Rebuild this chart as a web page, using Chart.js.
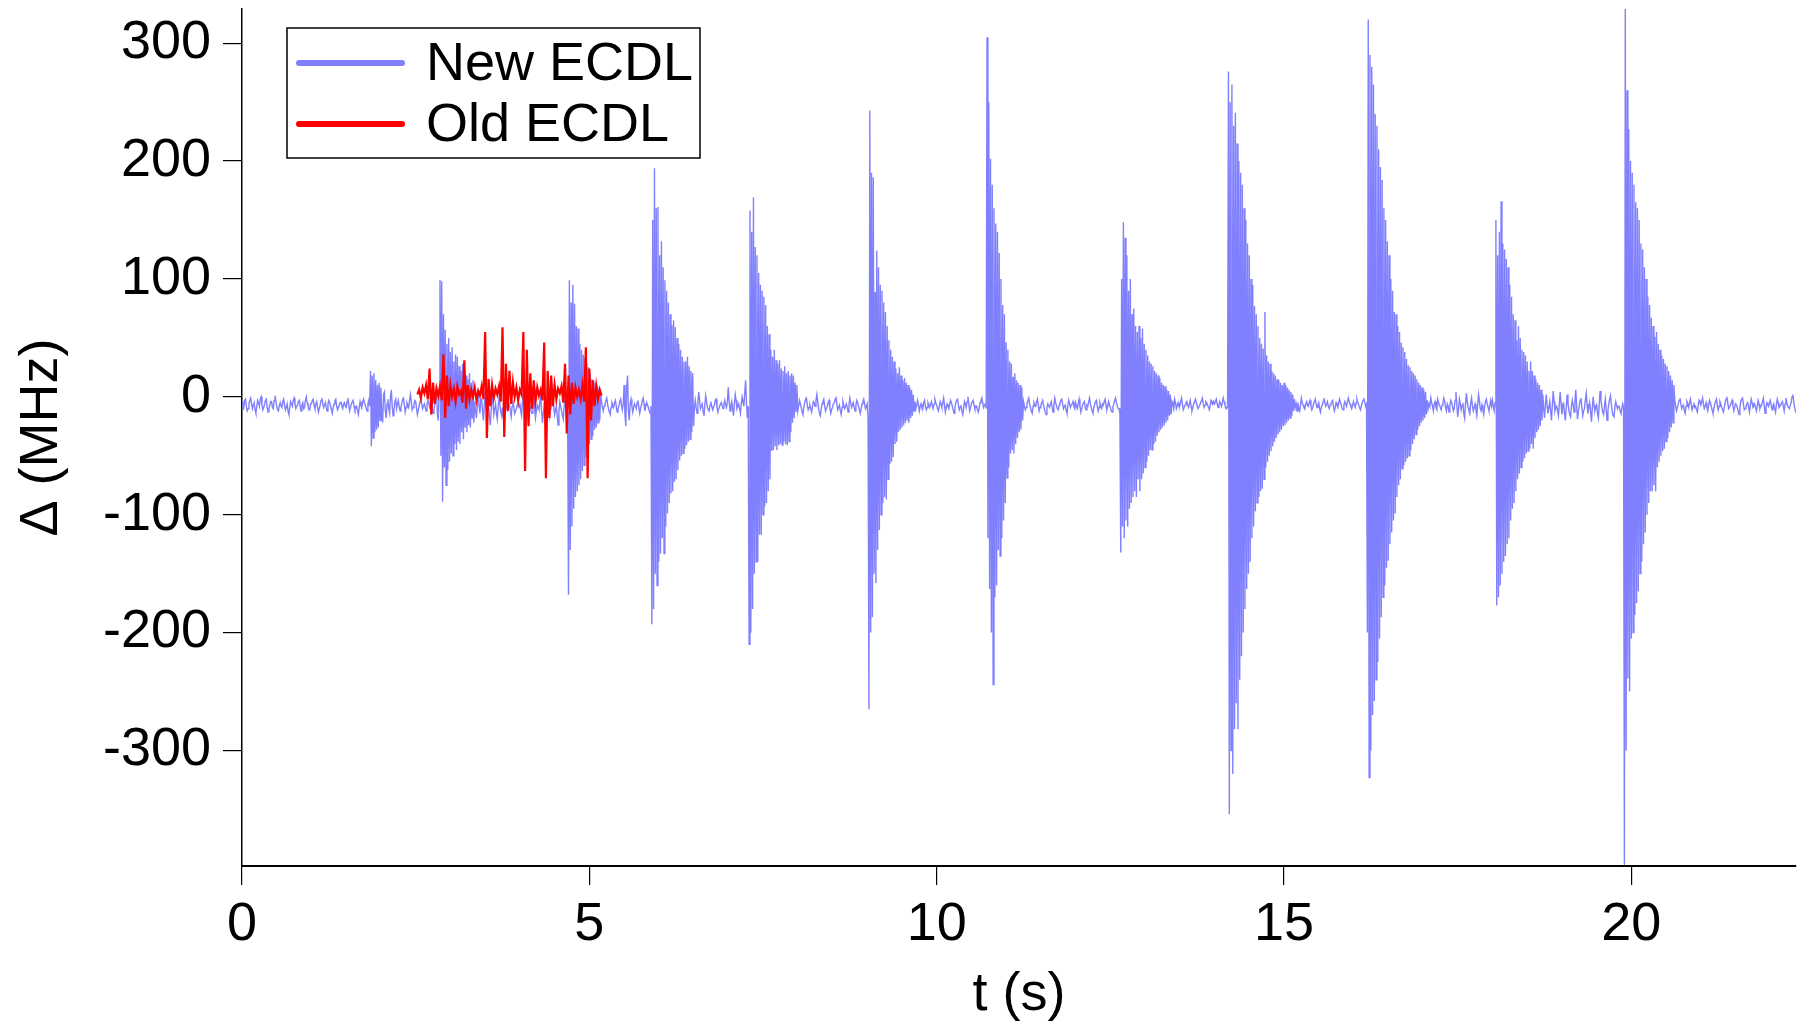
<!DOCTYPE html>
<html>
<head>
<meta charset="utf-8">
<script src="https://cdn.jsdelivr.net/npm/chart.js@4.4.1/dist/chart.umd.min.js"></script>
<style>
  html, body { margin: 0; padding: 0; background: #fff; }
  canvas { display: block; }
</style>
</head>
<body>
<canvas id="chart" width="1805" height="1028"></canvas>
<script>
// ============ data ============
const NEW_STEP = 0.0125;     // sample spacing of the new laser trace, s
const NEW_START = 0;
const OLD_STEP = 0.025;      // sample spacing of the old laser trace, s
const OLD_START = 2.525;

// New ECDL, Δ in MHz, one line per second (80 samples each)
const newDelta = [
  // 0 s
  -4,-7,-9,-3,-2,-8,-12,-10,-6,-3,-1,-6,-10,-7,-5,-11,-14,-8,-3,-5,-8,-2,0,-7,-11,-9,-6,-3,-2,-9,-13,-10,-7,-4,-4,-9,-10,-3,1,-4,
  -8,-11,-12,-7,-5,-8,-9,-4,-2,-7,-11,-9,-6,-12,-15,-9,-4,-6,-8,-3,-1,-6,-10,-8,-7,-4,-3,-8,-12,-7,-5,-10,-9,-3,0,-5,-8,-10,-11,-6,
  // 1 s
  -6,-3,-2,-7,-10,-6,-4,-9,-13,-10,-7,-3,-1,-6,-9,-7,-5,-9,-12,-6,-3,-5,-8,-11,-14,-9,-6,-3,-2,-8,-11,-9,-7,-5,-4,-8,-10,-6,-5,-8,
  -9,-4,-1,-7,-12,-9,-6,-4,-3,-8,-11,-9,-8,-12,-15,-9,-4,-7,-9,-4,-2,-5,-7,-10,-12,-6,-3,-8,22,-42,18,-35,20,-30,14,-28,10,-26,12,-20,
  // 2 s
  8,-16,-22,2,4,-12,-18,-6,-2,-10,-14,0,6,-8,-16,-11,-4,-2,-10,-6,
  -3,-8,-12,-9,-6,-2,-1,-7,-13,-9,-5,-7,-9,-3,2,-4,-11,-9,-7,-3,-4,-10,-15,-11,-8,-4,-2,-6,-10,-8,-6,-9,-12,-7,-3,-5,-9,-7,-5,-10,-14,-11,-7,-2,
  10,-14,-20,4,99,-50,98,-89,70,-60,57,-75,45,-62,50,-55,
  // 3 s
  38,-48,42,-50,30,-40,36,-45,34,-38,26,-40,22,-30,28,-36,24,-26,18,-30,15,-24,20,-26,12,-18,14,-22,
  -4,-12,-18,-6,6,-8,-14,-2,-2,-12,-20,-8,4,-6,-12,-10,-8,-18,-24,-10,2,-6,-15,-10,-6,-14,-19,-8,-1,-7,-13,-16,-9,-18,-22,-10,3,-4,-11,-9,-7,-12,-17,-8,-3,-9,-14,-12,-10,-7,-6,-9,
  // 4 s
  -5,-12,-16,-4,3,-6,-12,-18,-20,-10,-2,-6,-9,-12,-14,-4,4,-10,-18,-12,-7,-9,-11,-4,0,-12,-22,-14,-6,-10,-13,-7,-3,-10,-17,-12,-9,-3,2,-8,-15,-11,-8,-16,-24,-12,-4,-8,-12,-16,-19,-8,-1,-6,-10,-14,
  -168,99,-130,80,-110,95,-95,79,-85,60,-80,58,-75,45,-70,40,-63,36,-58,33,-51,28,-45,25,
  // 5 s
  -40,20,-36,15,-33,14,-28,12,-26,10,-22,8,-20,4,
  -4,-9,-12,-8,-7,-3,-1,-6,-10,-13,-15,-9,-5,-7,-9,-5,-3,-8,-13,-10,-8,-4,-2,-7,-11,-6,
  10,-15,-25,8,18,-12,-20,-6,
  -2,-8,-13,-9,-6,-8,-10,-5,-3,-9,-14,-10,-7,-3,-1,-6,-12,-8,-5,-7,-9,-12,-14,-8,
  -193,150,-180,194,-150,160,-160,161,
  // 6 s
  -140,120,-133,132,-120,110,-133,99,-110,90,-99,80,-90,70,-82,61,-80,65,-72,59,-70,50,-62,45,-54,40,-50,34,-48,30,-44,30,-41,34,-38,26,-36,22,-30,20,
  -25,-10,-3,-9,-14,-4,4,-3,-10,-8,-6,-12,-16,-7,1,-4,-9,-11,-12,-7,-4,-8,-11,-9,-7,-3,-2,-9,-13,-10,-8,-6,-5,-8,-10,-6,-3,-7,-9,-4,
  // 7 s
  8,-4,-12,-8,-4,-10,-16,-6,2,-3,-10,-8,-6,-10,-14,-6,0,-4,-8,4,14,-6,-18,-8,
  -210,158,-200,140,-180,169,-150,127,-140,120,-140,105,-117,95,-117,90,-100,85,-93,78,-90,60,-80,53,-70,40,-46,34,-45,40,
  -42,31,-45,28,-41,31,-40,24,-41,22,-38,26,-40,20,-41,22,-38,18,-30,20,-22,18,-18,12,-12,10,
  // 8 s
  -12,-8,-3,-6,-9,-13,-15,-9,-5,-2,-1,-7,-11,-9,-7,-10,-13,-8,-4,-5,-8,-3,2,-4,-10,-14,-16,-10,-6,-4,-2,-8,-12,-10,-8,-5,-3,-9,-14,-11,
  -9,-6,-5,-2,0,-6,-11,-9,-7,-12,-15,-9,-4,-7,-10,-8,-6,-9,-13,-7,-1,-5,-9,-7,-5,-9,-12,-7,-3,-5,-8,-11,-14,-10,-6,-4,-2,-6,-10,-8,
  // 9 s
  -6,-20,-265,243,-200,190,-187,186,-150,89,-158,124,-130,110,-113,95,-100,90,-90,80,-85,72,-87,60,-70,48,-57,40,-55,34,
  -51,30,-40,24,-38,20,-30,25,-28,18,-26,14,-24,16,-22,12,-20,10,-22,8,-18,6,-16,2,-12,-4,
  -10,-7,-3,-7,-12,-8,-6,-9,-10,-5,-3,-8,-11,-9,-5,-7,-9,-6,-4,-8,-10,-6,-2,-5,
  // 10 s
  -7,-10,-12,-8,-4,-6,-9,-5,-1,-7,-13,-9,-6,-8,-10,-6,-3,-5,-8,-11,-14,-9,-5,-3,-2,-7,-11,-9,-7,-12,
  -15,-10,-4,-6,-9,-4,0,-6,-12,-9,-6,-4,-3,-7,-10,-9,-8,-11,-13,-9,-5,-3,-1,-5,-9,-7,-6,-10,
  305,-120,250,-163,202,-200,180,-244,160,-170,147,-160,140,-130,122,-135,100,-120,78,-105,70,-90,
  // 11 s
  46,-69,40,-60,30,-48,28,-45,17,-48,20,-40,14,-35,12,-30,10,-28,8,-20,
  -4,-8,-11,-9,-6,-3,-1,-6,-9,-12,-14,-8,-5,-7,-8,-4,-2,-7,-12,-9,-7,-5,-3,-7,-10,-13,-15,-9,-6,-8,
  -9,-6,-4,-9,-13,-7,-1,-5,-8,-10,-11,-7,-5,-3,-2,-6,-10,-8,-7,-11,-14,-8,-3,-6,-9,-7,-6,-4,-8,-10,
  // 12 s
  -5,-8,-10,-6,-2,-8,-13,-10,-7,-5,-4,-9,-11,-7,-8,-4,-1,-6,-9,-12,-14,-9,-6,-4,-3,-8,-12,-9,-5,-8,
  -10,-6,-7,-4,-2,-7,-11,-8,-4,-7,-9,-12,-13,-8,-6,-3,-1,-5,-8,-10,-10,-14,
  -132,100,-110,148,-120,135,-105,120,-110,90,-95,100,-90,70,-85,75,-80,60,-85,55,-70,60,-80,50,-70,58,-65,45,
  // 13 s
  -60,40,-55,35,-50,30,-45,28,-45,26,-40,22,-38,20,-33,18,-30,16,-28,12,-26,10,-24,9,-22,6,-20,5,-16,2,-15,-4,
  -6,-10,-2,-5,-10,-7,-5,-8,-8,-4,-1,-6,-11,-9,-7,-5,-4,-7,-9,-6,-3,-8,-12,-9,-6,-4,-2,-5,-8,-10,
  -10,-7,-5,-3,-1,-6,-9,-7,-4,-5,-7,-9,-11,-7,-3,-5,-6,-4,
  // 14 s
  -6,-4,-2,-6,-9,-7,-4,-6,-8,-5,-1,-4,-7,-9,-10,-8,
  276,-354,250,-300,265,-320,230,-282,241,-260,215,-282,200,-240,190,-220,180,-200,160,-180,150,-163,130,-150,120,-140,100,-120,95,-110,77,-97,
  70,-90,60,-85,50,-80,45,-78,41,-70,72,-60,35,-55,30,-50,28,-46,22,-42,20,-38,18,-35,15,-32,14,-30,12,-28,10,-25,
  // 15 s
  12,-24,10,-22,8,-20,6,-18,4,-16,2,-12,-2,-9,-6,-12,
  -5,-10,-12,-7,-1,-5,-7,-9,-10,-6,-4,-7,-8,-5,-3,-8,-11,-9,-6,-4,-2,-6,-9,-7,-5,-10,-13,-9,-7,-4,-1,-5,
  -8,-6,-4,-8,-10,-7,-6,-4,-3,-8,-12,-9,-5,-7,-9,-5,-2,-5,-7,-10,-11,-7,-4,-6,-8,-4,-1,-4,-6,-8,-10,-7,
  // 16 s
  -4,-7,-9,-5,-2,-5,-7,-9,-11,-8,-5,-3,-1,-5,-8,-6,
  -200,320,-323,290,-300,280,-270,265,-258,240,-240,230,-225,210,-205,195,-187,184,-170,160,-160,150,-145,132,-139,120,-125,100,-115,90,-105,72,
  -99,70,-85,60,-75,55,-70,46,-61,42,-58,38,-55,32,-52,27,-50,25,-45,22,-40,20,-36,18,-32,15,-28,12,-25,10,-22,8,
  // 17 s
  -20,6,-18,4,-15,-3,
  -10,-6,-8,-1,-5,-8,-12,-6,-4,-9,-11,-2,-5,-7,-9,-11,-7,-5,-1,-4,-9,-12,-6,-8,-13,-7,-3,-5,-8,-12,-10,-3,4,-6,-17,-10,-2,
  -6,-11,-7,-5,-14,-18,-6,3,-4,-9,-12,-14,-5,-1,-8,-12,-9,-6,-11,-16,-7,2,-3,-10,-12,-7,-11,-15,-8,-4,-2,-6,-9,-12,-7,-3,-8,
  // 18 s
  -3,-8,-12,-5,150,-177,120,-170,140,-160,166,-150,130,-140,125,-135,117,-125,110,-120,95,-105,85,-95,70,-90,65,-80,48,-70,
  60,-65,50,-60,40,-55,38,-52,35,-48,30,-46,22,-44,30,-40,22,-44,18,-35,15,-30,12,-28,10,-25,6,-20,
  2,-10,-18,-6,2,-8,-14,-9,-4,-12,-20,-7,5,-4,-12,-9,-8,-12,-16,-6,4,-5,
  // 19 s
  -15,-8,-6,-14,-20,-9,2,-6,-11,-15,-17,-8,-3,-7,-13,-4,6,-8,-19,-12,-8,-3,-1,-9,-16,-12,-10,-3,3,-6,-14,-9,-5,-12,-21,-10,
  0,-7,-12,-9,-7,-14,-18,-6,5,-3,-9,-13,-15,-8,-2,-11,-20,-12,-6,-2,1,-7,-13,-16,-17,-9,-4,-7,-10,-8,-8,-12,-14,-10,-6,-9,
  -397,329,-300,260,-239,227,-250,200,
  // 20 s
  -205,190,-200,180,-185,165,-175,160,-165,150,-150,130,-140,125,-125,110,-115,100,-100,85,-90,78,-80,67,-80,60,-75,51,-80,55,
  -60,45,-55,40,-50,35,-46,32,-44,28,-38,26,-35,22,-30,18,-26,14,-22,10,
  -3,-8,-12,-9,-6,-3,-1,-6,-10,-8,-7,-12,-14,-8,-4,-6,-9,-5,-2,-7,-11,-8,-5,-9,-8,-11,-13,-7,-3,-5,
  // 21 s
  -7,-4,-1,-6,-10,-8,-5,-9,-12,-7,-3,-5,-8,-11,-14,-10,-6,-4,-2,-7,-11,-8,-4,-6,-9,-11,-13,-9,-5,-2,0,-5,-10,-9,-7,-5,-3,-8,-12,-9,
  -6,-7,-9,-12,-15,-9,-4,-2,-1,-6,-11,-10,-8,-6,-5,-9,-13,-7,-2,-5,-9,-8,-6,-9,-12,-8,-3,-6,-10,-8,-7,-4,-1,-7,-14,-10,-5,-6,-8,-5,
  // 22 s
  -3,-7,-11,-8,-6,-10,-13,-7,-2,-5,-9,-8,-7,-5,-4,-8,-12,-6,-1,-5,-8,-9,-10,-7,-5,0,2,-4,-9,-12,-14
];

// Old ECDL, Δ in MHz, 2.525 s .. 5.175 s
const oldDelta = [
  2,6,-1,8,3,10,-2,24,-15,12, -6,7,1,9,-3,36,-18,18,-8,10,
  0,7,-4,9,2,5,-5,31,-10,10, -2,6,0,8,-3,5,1,9,-2,55,
  -35,15,-8,10,-1,7,2,9,-4,59, -34,28,-12,22,-6,12,0,8,-3,6,
  2,55,-63,40,-25,20,-10,14,-4,8, 1,6,-3,46,-69,22,-18,18,-8,10,
  -2,7,3,9,-5,28,-31,18,-15,12, -6,8,0,6,-2,10,-4,42,-69,24,
  -20,14,-8,9,-2,6,1
];

const seriesNames = ["New ECDL", "Old ECDL"];
const xTicks = [0, 5, 10, 15, 20];
const yTicks = [-300, -200, -100, 0, 100, 200, 300];

// ============ chart ============
const FONT = "'Liberation Sans', Arial, sans-serif";
const BLUE = "#8080ff";
const RED = "#ff0000";

const toPoints = (vals, t0, dt) => vals.map((v, i) => ({ x: +(t0 + i * dt).toFixed(4), y: v }));

// legend box drawn inside the plot, like the original figure
const boxLegend = {
  id: "boxLegend",
  afterDraw(chart) {
    const ctx = chart.ctx;
    ctx.save();
    ctx.strokeStyle = "#000";
    ctx.lineWidth = 1.5;
    ctx.fillStyle = "#fff";
    ctx.fillRect(287, 28, 413, 130);
    ctx.strokeRect(287, 28, 413, 130);
    const rows = [[seriesNames[0], BLUE, 63], [seriesNames[1], RED, 124]];
    ctx.lineCap = "round";
    ctx.lineWidth = 6;
    ctx.font = "54px " + FONT;
    ctx.textBaseline = "middle";
    rows.forEach(([name, color, y]) => {
      ctx.strokeStyle = color;
      ctx.beginPath();
      ctx.moveTo(299, y);
      ctx.lineTo(402, y);
      ctx.stroke();
      ctx.fillStyle = "#000";
      ctx.fillText(name, 426, y + 2);
    });
    ctx.restore();
  }
};

new Chart(document.getElementById("chart"), {
  type: "line",
  data: {
    datasets: [
      {
        label: seriesNames[1],
        data: toPoints(oldDelta, OLD_START, OLD_STEP),
        borderColor: RED,
        borderWidth: 2.2,
        pointRadius: 0,
        tension: 0,
        order: 0
      },
      {
        label: seriesNames[0],
        data: toPoints(newDelta, NEW_START, NEW_STEP),
        borderColor: BLUE,
        borderWidth: 1.4,
        pointRadius: 0,
        tension: 0,
        order: 1
      }
    ]
  },
  options: {
    responsive: false,
    animation: false,
    layout: { padding: { top: 9, right: 9, left: 0, bottom: 0 } },
    plugins: { legend: { display: false }, tooltip: { enabled: false } },
    scales: {
      x: {
        type: "linear",
        min: 0,
        max: 22.37,
        afterBuildTicks: s => { s.ticks = xTicks.map(v => ({ value: v })); },
        afterFit: s => { s.height = 162; s.paddingLeft = 0; s.paddingRight = 0; },
        ticks: { color: "#000", font: { family: FONT, size: 54 }, padding: 8, maxRotation: 0, autoSkip: false },
        grid: { drawOnChartArea: false, drawTicks: true, tickLength: 19, color: "#000", lineWidth: 1.2 },
        border: { display: true, color: "#000", width: 2 },
        title: { display: true, text: "t (s)", color: "#000", font: { family: FONT, size: 54 }, padding: 0 }
      },
      y: {
        min: -398,
        max: 329,
        afterBuildTicks: s => { s.ticks = yTicks.map(v => ({ value: v })); },
        afterFit: s => { s.width = 242; s.paddingTop = 0; s.paddingBottom = 0; },
        ticks: { color: "#000", font: { family: FONT, size: 54 }, padding: 12 },
        grid: { drawOnChartArea: false, drawTicks: true, tickLength: 19, color: "#000", lineWidth: 1.2 },
        border: { display: true, color: "#000", width: 1.5 },
        title: { display: true, text: "Δ (MHz)", color: "#000", font: { family: FONT, size: 54 }, padding: { top: 10, bottom: 0 } }
      }
    }
  },
  plugins: [boxLegend]
});
</script>
</body>
</html>
